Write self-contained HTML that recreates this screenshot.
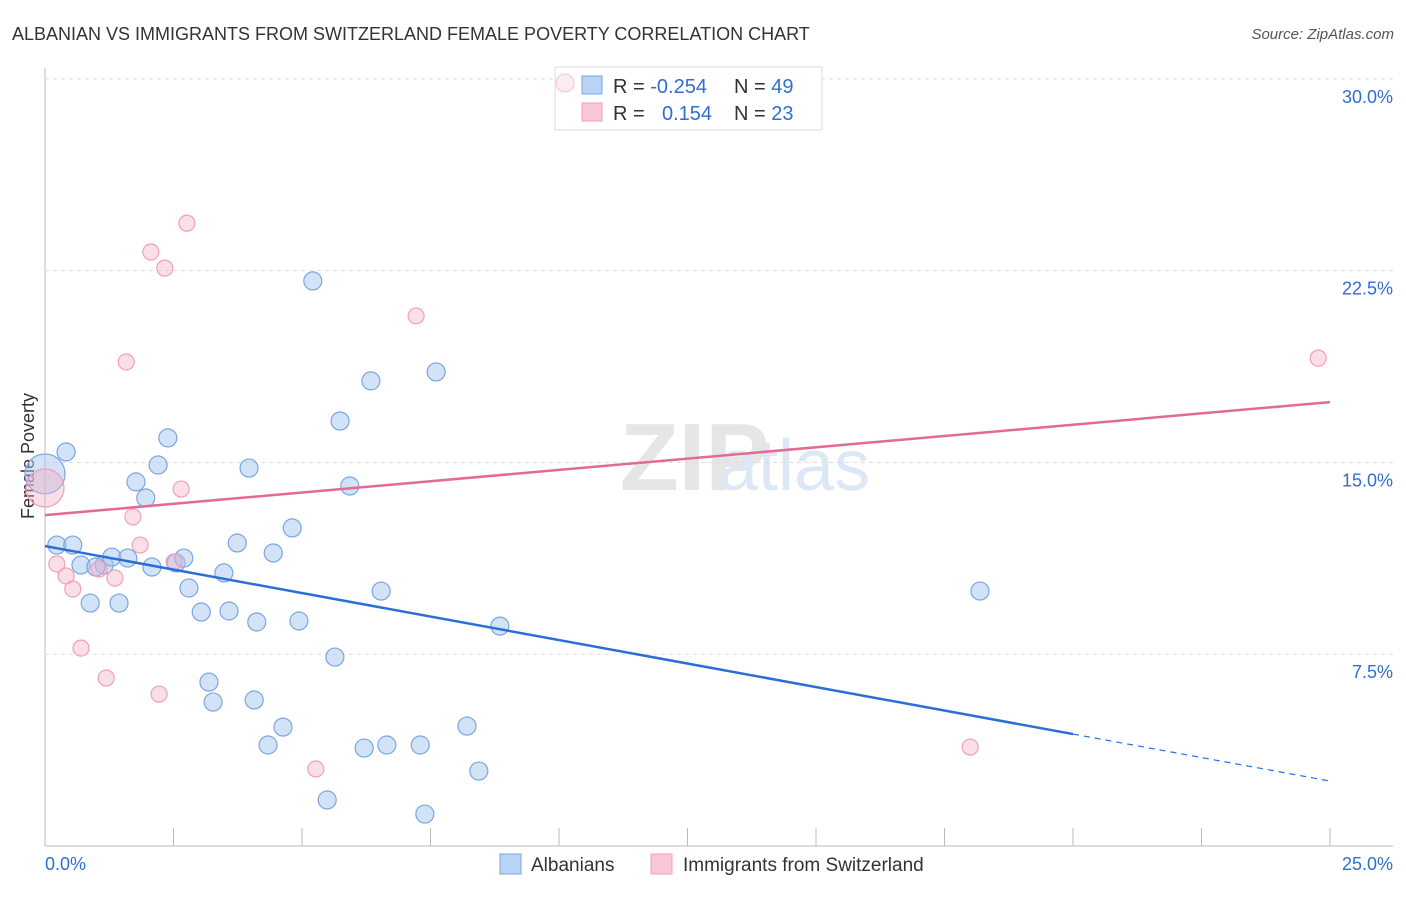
<!DOCTYPE html>
<html><head><meta charset="utf-8"><style>
body{margin:0;background:#fff;font-family:"Liberation Sans",sans-serif}
svg text{font-family:"Liberation Sans",sans-serif}
</style></head><body>
<svg width="1406" height="892" id="c">
<text x="12" y="40" font-size="18" fill="#333">ALBANIAN VS IMMIGRANTS FROM SWITZERLAND FEMALE POVERTY CORRELATION CHART</text>
<text x="1394" y="39" font-size="15" fill="#555" font-style="italic" text-anchor="end">Source: ZipAtlas.com</text>
<text x="620" y="490" font-size="96" fill="#e6e6e6" font-family="Liberation Serif" font-weight="bold">ZIP</text>
<text x="718" y="490" font-size="72" fill="#dde8f6">atlas</text>
<text transform="translate(34,456) rotate(-90)" font-size="18" fill="#333" text-anchor="middle">Female Poverty</text>
<g id="grid"></g><g id="pts"></g><g id="lines"></g>
<g>
<rect x="555" y="67" width="267" height="63" fill="#fff" stroke="#ddd"/>
<circle cx="565" cy="83" r="9" fill="rgba(245,175,195,0.25)" stroke="#f6c4d2"/>
<rect x="582" y="76" width="20" height="18" fill="#b8d3f5" stroke="#7aa6e0"/>
<rect x="582" y="103" width="20" height="18" fill="#f9c6d5" stroke="#f0a0b8"/>
<text x="613" y="93" font-size="20" fill="#333">R = <tspan fill="#2f6fd0">-0.254</tspan><tspan x="734">N = </tspan><tspan fill="#2f6fd0">49</tspan></text>
<text x="613" y="120" font-size="20" fill="#333">R = <tspan x="662" fill="#2f6fd0">0.154</tspan><tspan x="734">N = </tspan><tspan fill="#2f6fd0">23</tspan></text>
</g>
<g>
<rect x="500" y="854" width="21" height="20" fill="#b8d3f5" stroke="#7aa6e0"/>
<text x="531" y="871" font-size="19" fill="#333">Albanians</text>
<rect x="651" y="854" width="21" height="20" fill="#f9c6d5" stroke="#f0a0b8"/>
<text x="683" y="871" font-size="19" fill="#333">Immigrants from Switzerland</text>
</g>
</svg>
<script>
const yTicks=[7.5,15,22.5,30];
const yTickLabels=["7.5%","15.0%","22.5%","30.0%"];
const xTicks=[0,2.5,5,7.5,10,12.5,15,17.5,20,22.5,25];
const blueX=[0,0.41,0.23,0.54,0.70,1.15,1.30,1.61,0.88,1.44,1.77,1.96,2.20,2.39,2.08,2.55,2.70,2.80,3.04,3.19,3.27,3.48,3.58,3.74,3.97,4.07,4.12,4.34,4.44,4.63,4.81,4.94,5.21,5.64,5.74,5.93,6.21,6.34,6.54,6.65,7.30,7.39,7.61,8.21,8.44,8.85,5.49,18.19,0.99];
const blueY=[14.55,15.41,11.77,11.77,10.99,10.99,11.30,11.26,9.50,9.50,14.24,13.61,14.90,15.96,10.91,11.07,11.26,10.09,9.15,6.41,5.63,10.68,9.19,11.85,14.78,5.71,8.76,3.95,11.46,4.65,12.44,8.80,22.10,7.39,16.62,14.08,3.83,18.19,9.97,3.95,3.95,1.25,18.54,4.69,2.93,8.60,1.80,9.97,10.91];
const pinkX=[0,0.23,0.41,0.54,0.70,1.05,1.19,1.36,1.58,1.71,1.85,2.06,2.22,2.33,2.51,2.65,2.76,5.27,7.22,18.0,24.77];
const pinkY=[14.00,11.03,10.56,10.05,7.74,10.83,6.57,10.48,18.93,12.87,11.77,23.23,5.94,22.60,11.11,13.96,24.36,3.01,20.73,3.87,19.08];
const blueTrend=[11.73,2.54], blueSolidEnd=20.0;
const pinkTrend=[12.94,17.36];
const NS="http://www.w3.org/2000/svg";
const X=v=>45+v*51.4, Y=v=>846-v*25.57;
function mk(p,tag,a){const e=document.createElementNS(NS,tag);for(const k in a)e.setAttribute(k,a[k]);document.getElementById(p).appendChild(e);return e;}
let e=mk('grid','line',{x1:45,y1:68,x2:45,y2:846,stroke:'#bbb'});


e=mk('grid','line',{x1:45,y1:846,x2:1393,y2:846,stroke:'#bbb'});


yTicks.forEach((t,i)=>{
 e=mk('grid','line',{x1:45,y1:Y(t),x2:1393,y2:Y(t),stroke:'#ddd','stroke-dasharray':'4,4'});
 
 
 e=mk('grid','text',{x:1393,y:Y(t)+24,'font-size':18,fill:'#2f6fd0','text-anchor':'end'});
 e.textContent=yTickLabels[i];
 
 
});
xTicks.forEach(t=>{
 e=mk('grid','line',{x1:X(t),y1:828,x2:X(t),y2:846,stroke:'#bbb'});
 
 
});
e=mk('grid','text',{x:45,y:870,'font-size':18,fill:'#2f6fd0'});e.textContent='0.0%';


e=mk('grid','text',{x:1393,y:870,'font-size':18,fill:'#2f6fd0','text-anchor':'end'});e.textContent='25.0%';


blueX.forEach((x,i)=>{
 e=mk('pts','circle',{cx:X(x),cy:Y(blueY[i]),r:i==0?20:9,fill:'rgba(165,198,240,0.5)',stroke:'#7aa6e0','stroke-width':1.2});
 
 
});
pinkX.forEach((x,i)=>{
 e=mk('pts','circle',{cx:X(x),cy:Y(pinkY[i]),r:i==0?19:8,fill:'rgba(245,175,195,0.4)',stroke:'#f0a0b8','stroke-width':1.2});
 
 
});
const by=x=>blueTrend[0]+(blueTrend[1]-blueTrend[0])*x/25;
e=mk('lines','line',{x1:X(0),y1:Y(by(0)),x2:X(blueSolidEnd),y2:Y(by(blueSolidEnd)),stroke:'#2a6fd6','stroke-width':2.5});


e=mk('lines','line',{x1:X(blueSolidEnd),y1:Y(by(blueSolidEnd)),x2:X(25),y2:Y(by(25)),stroke:'#2a6fd6','stroke-width':1.2,'stroke-dasharray':'6,5'});


e=mk('lines','line',{x1:X(0),y1:Y(pinkTrend[0]),x2:X(25),y2:Y(pinkTrend[1]),stroke:'#e56a92','stroke-width':2.5});


</script>
</body></html>
